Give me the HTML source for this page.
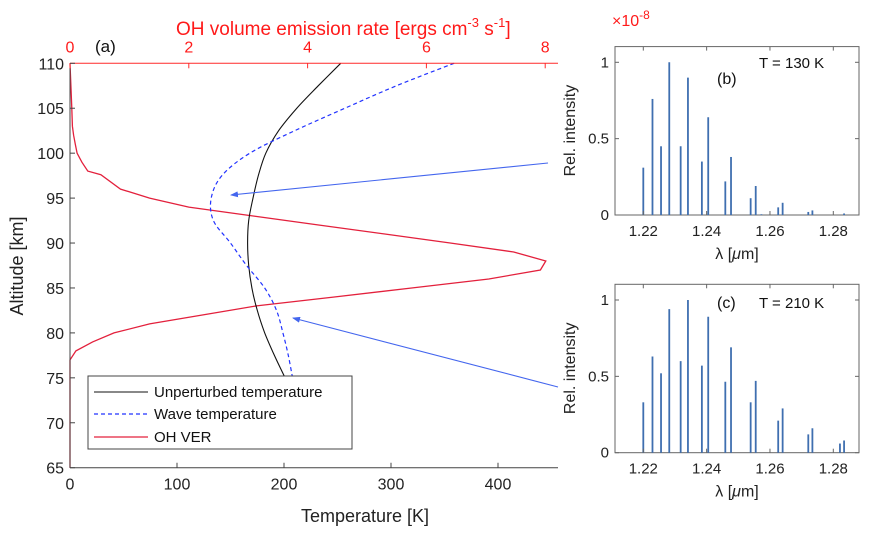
<!DOCTYPE html>
<html><head><meta charset="utf-8"><style>
html,body{margin:0;padding:0;background:#fff;}
svg{display:block;font-family:"Liberation Sans",sans-serif;}
</style></head><body>
<svg id="fig" width="869" height="534" viewBox="0 0 869 534" xmlns="http://www.w3.org/2000/svg">
<g id="main"></g>
<g id="pb"></g>
<g id="pc"></g>
</svg>
<script>
// ---- main panel data ----
const altitudes = [110,107.5,105,102.5,100,97.5,95,92.5,90,87.5,85,82.5,80,77.5,75];
const tempUnperturbed = [253,232,212,195,183,176,171,167,166,167,170,175,182,191,201];
const tempWave = [359,305,257,210,168,142,132,134,150,165,182,193,199,204,208];
const verAlt = [110,105,103,102,101,100,99,98,97.6,96,95,94,93,92,91,90,89,88,87,86,85,84,83,82,81,80,79,78,77,65];
const verVal = [0,0.03,0.04,0.06,0.09,0.12,0.2,0.3,0.52,0.85,1.34,2.0,3.1,4.2,5.3,6.4,7.47,8.01,7.92,7.05,5.75,4.45,3.14,2.24,1.34,0.74,0.38,0.1,0,0];
const tempTicks = [0,100,200,300,400];
const verTicks = [0,2,4,6,8];
const altTicks = [65,70,75,80,85,90,95,100,105,110];
// ---- spectra data ----
const lambdaB = [1.2200,1.2229,1.2256,1.2282,1.2318,1.2341,1.2385,1.2405,1.2459,1.2477,1.2539,1.2555,1.2573,1.2626,1.2640,1.2721,1.2734,1.2834];
const intensB = [0.31,0.76,0.45,1.0,0.45,0.9,0.35,0.64,0.22,0.38,0.11,0.19,0.005,0.05,0.08,0.02,0.03,0.01];
const lambdaC = [1.2200,1.2229,1.2256,1.2282,1.2318,1.2341,1.2385,1.2405,1.2459,1.2477,1.2539,1.2555,1.2626,1.2640,1.2721,1.2734,1.2821,1.2834];
const intensC = [0.33,0.63,0.52,0.94,0.60,1.0,0.57,0.89,0.465,0.69,0.33,0.47,0.21,0.29,0.12,0.16,0.06,0.08];
const lambdaTicks = [1.22,1.24,1.26,1.28];
const intensTicks = [0,0.5,1];

const NS="http://www.w3.org/2000/svg";
function mk(parent,tag,attrs,text){const e=document.createElementNS(NS,tag);for(const k in attrs)e.setAttribute(k,attrs[k]);if(text!==undefined)e.textContent=text;parent.appendChild(e);return e;}

const L=70,R=558,T=63.3,B=467.7;
const xT=t=>L+t*1.07;
const xV=v=>L+v*59.4;
const yA=a=>T+(110-a)*(B-T)/45;
const M=document.getElementById('main');

function pathFrom(xs,ys,fx,fy){return xs.map((x,i)=>(i?'L':'M')+fx(x).toFixed(1)+','+fy(ys[i]).toFixed(1)).join(' ');}
function smoothFrom(xs,ys,fx,fy){
  const P=xs.map((x,i)=>[fx(x),fy(ys[i])]);
  let d='M'+P[0][0].toFixed(1)+','+P[0][1].toFixed(1);
  for(let i=0;i<P.length-1;i++){
    const p0=P[Math.max(0,i-1)],p1=P[i],p2=P[i+1],p3=P[Math.min(P.length-1,i+2)];
    const c1=[p1[0]+(p2[0]-p0[0])/6,p1[1]+(p2[1]-p0[1])/6];
    const c2=[p2[0]-(p3[0]-p1[0])/6,p2[1]-(p3[1]-p1[1])/6];
    d+=' C'+c1[0].toFixed(1)+','+c1[1].toFixed(1)+' '+c2[0].toFixed(1)+','+c2[1].toFixed(1)+' '+p2[0].toFixed(1)+','+p2[1].toFixed(1);
  }
  return d;
}
let p;
p=mk(M,'path',{d:pathFrom(verVal,verAlt,xV,yA),fill:'none',stroke:'#e3203c','stroke-width':1.3});


p=mk(M,'path',{d:smoothFrom(tempUnperturbed,altitudes,xT,yA),fill:'none',stroke:'#111','stroke-width':1.1});


p=mk(M,'path',{d:smoothFrom(tempWave,altitudes,xT,yA),fill:'none',stroke:'#2233ff','stroke-width':1.2,'stroke-dasharray':'4,3'});



p=mk(M,'line',{x1:L,y1:B,x2:R,y2:B,stroke:'#444','stroke-width':1});


p=mk(M,'line',{x1:L,y1:T,x2:L,y2:B,stroke:'#444','stroke-width':1});


p=mk(M,'line',{x1:L,y1:T,x2:R,y2:T,stroke:'#ff2a2a','stroke-width':1});



tempTicks.forEach(t=>{
  mk(M,'line',{x1:xT(t),y1:B,x2:xT(t),y2:B-5,stroke:'#444'});
  const e=mk(M,'text',{x:xT(t),y:B+22,'text-anchor':'middle','font-size':16,fill:'#222'},String(t));
  
  
});
verTicks.forEach(v=>{
  mk(M,'line',{x1:xV(v),y1:T,x2:xV(v),y2:T+5,stroke:'#ff2a2a'});
  const e=mk(M,'text',{x:xV(v),y:T-11,'text-anchor':'middle','font-size':16,fill:'#ff1a1a'},String(v));
  
  
});
altTicks.forEach(a=>{
  mk(M,'line',{x1:L,y1:yA(a),x2:L+5,y2:yA(a),stroke:'#444'});
  const e=mk(M,'text',{x:L-6,y:yA(a)+6,'text-anchor':'end','font-size':16,fill:'#222'},String(a));
  
  
});

const defs=mk(document.getElementById('fig'),'defs',{});
const mkr=mk(defs,'marker',{id:'ah',markerWidth:8,markerHeight:6,refX:7,refY:3,orient:'auto',markerUnits:'userSpaceOnUse'});
mk(mkr,'path',{d:'M0,0 L8,3 L0,6 z',fill:'#4466ee'});
p=mk(M,'line',{x1:548,y1:163,x2:231,y2:195,stroke:'#4466ee','stroke-width':1.1,'marker-end':'url(#ah)'});


p=mk(M,'line',{x1:558,y1:387,x2:293,y2:318,stroke:'#4466ee','stroke-width':1.1,'marker-end':'url(#ah)'});


</script>
<script>
(function(){
const M=document.getElementById('main');
M.insertAdjacentHTML('beforeend',`
<text x="365" y="522" text-anchor="middle" font-size="18" fill="#222">Temperature [K]</text>
<text x="0" y="0" transform="translate(23,266) rotate(-90)" text-anchor="middle" font-size="18" fill="#222">Altitude [km]</text>
<text x="176" y="35" font-size="19" fill="#ff1a1a">OH volume emission rate [ergs cm<tspan dy="-8" font-size="13">-3</tspan><tspan dy="8"> s</tspan><tspan dy="-8" font-size="13">-1</tspan><tspan dy="8">]</tspan></text>
<text x="95" y="52" font-size="17" fill="#111">(a)</text>
<g>
<rect x="88" y="376" width="264" height="73" fill="#fff" stroke="#444" stroke-width="1"/>
<line x1="94" y1="392" x2="148" y2="392" stroke="#111" stroke-width="1.1"/>
<text x="154" y="397" font-size="15" fill="#111">Unperturbed  temperature</text>
<line x1="94" y1="414" x2="148" y2="414" stroke="#2233ff" stroke-width="1.2" stroke-dasharray="4,3"/>
<text x="154" y="419" font-size="15" fill="#111">Wave  temperature</text>
<line x1="94" y1="437" x2="148" y2="437" stroke="#e3203c" stroke-width="1.3"/>
<text x="154" y="442" font-size="15" fill="#111">OH VER</text>
</g>`);
})();

function spectrum(gid,top,lam,inten,label,tlabel,showExp){
  const NS="http://www.w3.org/2000/svg";
  const G=document.getElementById(gid);
  const L=615,R=859,B=top+168.4,T=top;
  const x=l=>643.3+(l-1.22)*3166.7;
  const y=v=>B-v*152.7;
  function mk(tag,attrs,text){const e=document.createElementNS(NS,tag);for(const k in attrs)e.setAttribute(k,attrs[k]);if(text!==undefined)e.textContent=text;G.appendChild(e);return e;}
  let e;
  e=mk('rect',{x:L,y:T,width:R-L,height:B-T,fill:'none',stroke:'#666','stroke-width':1});
  
  
  lam.forEach((l,i)=>{
    const b=mk('line',{x1:x(l),y1:B,x2:x(l),y2:y(inten[i]),stroke:'#3f6fb0','stroke-width':1.8});
    
    
  });
  lambdaTicks.forEach(t=>{
    mk('line',{x1:x(t),y1:B,x2:x(t),y2:B-4,stroke:'#666'});
    mk('line',{x1:x(t),y1:T,x2:x(t),y2:T+4,stroke:'#666'});
    const tx=mk('text',{x:x(t),y:B+21,'text-anchor':'middle','font-size':15,fill:'#222'},t.toFixed(2));
    
    
  });
  intensTicks.forEach(t=>{
    mk('line',{x1:L,y1:y(t),x2:L+4,y2:y(t),stroke:'#666'});
    mk('line',{x1:R,y1:y(t),x2:R-4,y2:y(t),stroke:'#666'});
    const tx=mk('text',{x:L-6,y:y(t)+5,'text-anchor':'end','font-size':15,fill:'#222'},String(t));
    
    
  });
  G.insertAdjacentHTML('beforeend',`
  <text x="0" y="0" transform="translate(575,${T+84}) rotate(-90)" text-anchor="middle" font-size="16" fill="#222">Rel. intensity</text>
  <text x="737" y="${B+44}" text-anchor="middle" font-size="16" fill="#222">λ [<tspan font-style="italic">μ</tspan>m]</text>
  <text x="717" y="${label==='(b)'?84:308}" font-size="16" fill="#111">${label}</text>
  <text x="759" y="${label==='(b)'?68:308}" font-size="15" fill="#111">${tlabel}</text>
  ${showExp?`<text x="612" y="26" font-size="16" fill="#ff1a1a">×10<tspan dy="-7" font-size="12">-8</tspan></text>`:''}`);
}
spectrum('pb',46.6,lambdaB,intensB,'(b)','T = 130 K',true);
spectrum('pc',284.3,lambdaC,intensC,'(c)','T = 210 K',false);
</script>
</body></html>
